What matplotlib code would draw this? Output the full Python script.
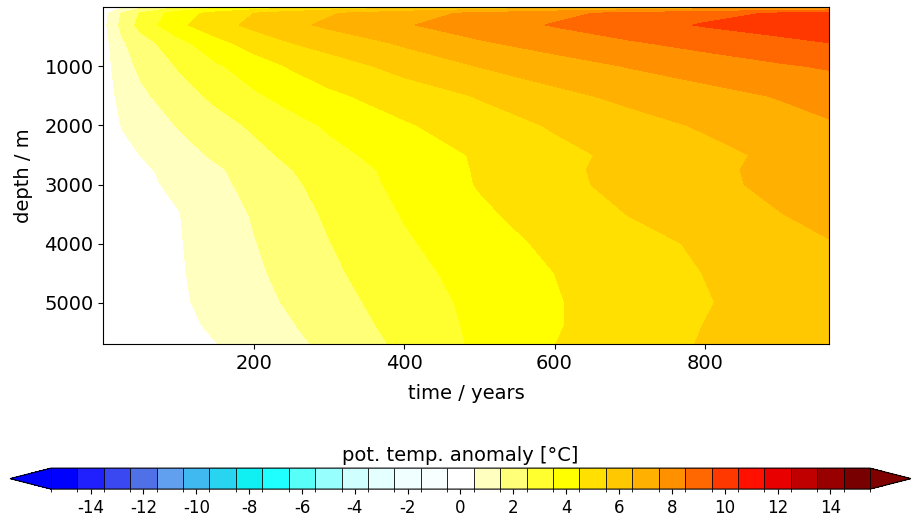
import numpy as np
import matplotlib.pyplot as plt
from matplotlib.colors import ListedColormap, BoundaryNorm

plt.rcParams['axes.unicode_minus'] = False

# time axis (years) and depth levels (m)
times = [0, 25, 50, 100, 150, 200, 250, 300, 400, 500, 600, 700, 800, 900, 965]
depths = [0, 100, 300, 600, 1000, 1500, 2000, 2500, 2750, 3000, 3500, 4000, 4500, 5000, 5400, 5700]

# potential temperature anomaly (degC), one row per depth level
temp_0 = [-0.7, 0.4, 1.3, 2.5, 3.2, 3.8, 4.3, 4.7, 5.3, 5.8, 6.2, 6.6, 6.9, 7.2, 7.4]
temp_100 = [0.1, 1.6, 2.6, 4.0, 4.85, 5.5, 6.0, 6.4, 7.1, 7.7, 8.25, 8.75, 9.2, 9.6, 9.85]
temp_300 = [0.2, 1.79, 2.84, 4.28, 5.11, 5.75, 6.26, 6.69, 7.41, 8.0, 8.57, 9.08, 9.58, 9.98, 10.25]
temp_600 = [0.1, 1.37, 2.05, 3.18, 4.2, 4.92, 5.5, 5.89, 6.65, 7.39, 7.91, 8.4, 8.83, 9.23, 9.5]
temp_1000 = [0.05, 1.09, 1.71, 2.58, 3.35, 4.0, 4.59, 5.02, 5.82, 6.53, 7.05, 7.55, 7.97, 8.38, 8.6]
temp_1500 = [0.0, 0.8, 1.3, 2.06, 2.73, 3.35, 3.85, 4.31, 4.97, 5.57, 6.23, 6.75, 7.16, 7.57, 7.85]
temp_2000 = [-0.05, 0.54, 0.88, 1.56, 2.11, 2.65, 3.16, 3.63, 4.39, 5.02, 5.6, 6.12, 6.62, 7.09, 7.4]
temp_2500 = [-0.05, 0.25, 0.52, 1.1, 1.66, 2.2, 2.72, 3.21, 3.96, 4.61, 5.23, 5.75, 6.19, 6.72, 7.2]
temp_2750 = [-0.05, 0.15, 0.35, 0.8, 1.36, 1.92, 2.48, 2.95, 3.82, 4.59, 5.27, 5.81, 6.27, 6.76, 7.1]
temp_3000 = [-0.05, 0.1, 0.3, 0.68, 1.25, 1.8, 2.34, 2.84, 3.76, 4.56, 5.23, 5.79, 6.26, 6.72, 7.0]
temp_3500 = [-0.05, 0.1, 0.25, 0.47, 1.01, 1.58, 2.12, 2.64, 3.56, 4.33, 4.96, 5.53, 6.0, 6.48, 6.75]
temp_4000 = [-0.05, 0.1, 0.22, 0.44, 0.9, 1.45, 1.96, 2.47, 3.37, 4.09, 4.7, 5.17, 5.65, 6.13, 6.45]
temp_4500 = [-0.05, 0.1, 0.2, 0.42, 0.81, 1.32, 1.82, 2.3, 3.18, 3.88, 4.5, 5.01, 5.52, 5.99, 6.3]
temp_5000 = [-0.05, 0.1, 0.2, 0.4, 0.7, 1.17, 1.63, 2.1, 2.98, 3.76, 4.43, 4.95, 5.44, 5.9, 6.2]
temp_5400 = [-0.05, 0.08, 0.18, 0.36, 0.58, 1.01, 1.43, 1.9, 2.85, 3.71, 4.43, 4.98, 5.52, 5.9, 6.15]
temp_5700 = [-0.05, 0.07, 0.15, 0.32, 0.49, 0.88, 1.28, 1.72, 2.72, 3.68, 4.49, 5.06, 5.57, 5.89, 6.1]

temp = np.array([temp_0, temp_100, temp_300, temp_600, temp_1000, temp_1500,
                 temp_2000, temp_2500, temp_2750, temp_3000, temp_3500, temp_4000,
                 temp_4500, temp_5000, temp_5400, temp_5700])

# colour for each 1 degC class from -15 to 15
class_colors = ['#0000ff', '#2020ff', '#3a48f2', '#5070e8', '#60a0ee', '#40b8f0',
                '#28d4f0', '#10f0f2', '#20ffff', '#58fff8', '#98ffff', '#d0ffff',
                '#e4ffff', '#f0ffff', '#f8ffff', '#ffffff', '#ffffc0', '#ffff78',
                '#ffff30', '#ffff00', '#ffe000', '#ffc800', '#ffb000', '#ff9000',
                '#ff6800', '#ff3800', '#ff1000', '#e80000', '#c00000', '#980000',
                '#780000']
levels = np.arange(-15.5, 16, 1)
cbar_ticks = np.arange(-14, 15, 2)

cmap = ListedColormap(class_colors)
cmap.set_under('#0000ff')
cmap.set_over('#800000')
norm = BoundaryNorm(levels, cmap.N)

fig = plt.figure(figsize=(9.11, 5.22), dpi=100)
ax = fig.add_axes([0.1134, 0.341, 0.7966, 0.645])
cs = ax.contourf(times, depths, temp, levels=levels, cmap=cmap, norm=norm, extend='both')
ax.set_ylim(5700, 0)
ax.set_xlim(0, 965)
ax.set_xticks([200, 400, 600, 800])
ax.set_yticks([1000, 2000, 3000, 4000, 5000])
ax.tick_params(labelsize=14)
ax.set_xlabel('time / years', fontsize=14, labelpad=8)
ax.set_ylabel('depth / m', fontsize=14, labelpad=8)

cax = fig.add_axes([10 / 911, 0.063, 901 / 911, 0.0402])
cb = fig.colorbar(cs, cax=cax, orientation='horizontal', drawedges=True, ticks=cbar_ticks)
cb.ax.tick_params(labelsize=12)
cb.set_label('pot. temp. anomaly [°C]', fontsize=14, labelpad=5)
cb.ax.xaxis.set_label_position('top')
cb.dividers.set_linewidth(0.6)

fig.savefig('out.png', dpi=100)
